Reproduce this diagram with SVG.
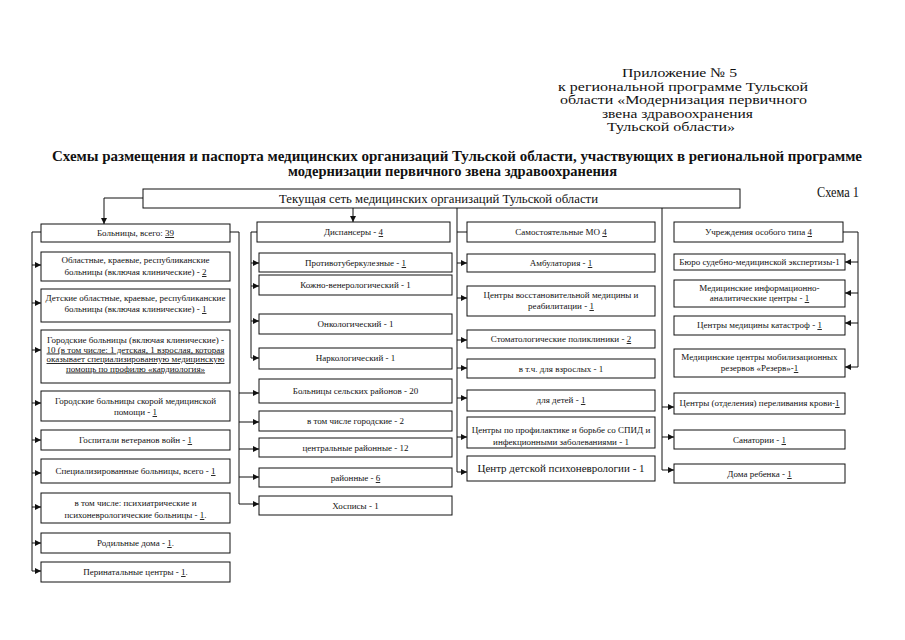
<svg xmlns="http://www.w3.org/2000/svg" width="905" height="640" viewBox="0 0 905 640">
<style>
.bg{fill:#fff}
.box{fill:#fff;stroke:#111;stroke-width:1}
.ln{fill:none;stroke:#111;stroke-width:1}
.ar{fill:none;stroke:#111;stroke-width:1;marker-end:url(#ah)}
.t{font-family:"Liberation Serif","Times New Roman",serif;font-size:9px;fill:#111;text-anchor:middle}
.big{font-size:11px}
.u{text-decoration:underline}
.hd{font-family:"Liberation Serif","Times New Roman",serif;font-size:13.5px;fill:#111}
.sc{font-family:"Liberation Serif","Times New Roman",serif;font-size:15px;fill:#111}
.ti{font-family:"Liberation Serif","Times New Roman",serif;font-size:14.5px;font-weight:bold;fill:#111}
</style>
<defs>
<marker id="ah" viewBox="0 0 6 6" refX="6" refY="3" markerWidth="6" markerHeight="6" markerUnits="userSpaceOnUse" orient="auto">
<path d="M0,0 L6,3 L0,6 Z" fill="#111"/>
</marker>
</defs>
<rect class="bg" x="0" y="0" width="905" height="640"/>

<g id="header">
<text class="hd" x="622" y="77" textLength="115" lengthAdjust="spacingAndGlyphs">Приложение № 5</text>
<text class="hd" x="558" y="90.5" textLength="250" lengthAdjust="spacingAndGlyphs">к региональной программе Тульской</text>
<text class="hd" x="560" y="104" textLength="247" lengthAdjust="spacingAndGlyphs">области «Модернизация первичного</text>
<text class="hd" x="602" y="117.5" textLength="151" lengthAdjust="spacingAndGlyphs">звена здравоохранения</text>
<text class="hd" x="607" y="131" textLength="128" lengthAdjust="spacingAndGlyphs">Тульской области»</text>
</g>
<g id="title">
<text class="ti" x="52" y="161" textLength="810" lengthAdjust="spacingAndGlyphs">Схемы размещения и паспорта медицинских организаций Тульской области, участвующих в региональной программе</text>
<text class="ti" x="288" y="176" textLength="329" lengthAdjust="spacingAndGlyphs">модернизации первичного звена здравоохранения</text>
<text class="sc" x="817" y="197" textLength="42" lengthAdjust="spacingAndGlyphs">Схема 1</text>
</g>

<g id="connectors">
<polyline class="ar" points="143,198 104,198 104,224"/>
<line class="ar" x1="353" y1="208" x2="353" y2="222"/>
<polyline class="ln" points="41,232 32,232 32,571"/>
<line class="ar" x1="32" y1="265" x2="41" y2="265"/>
<line class="ar" x1="32" y1="303" x2="41" y2="303"/>
<line class="ar" x1="32" y1="350" x2="41" y2="350"/>
<line class="ar" x1="32" y1="403" x2="41" y2="403"/>
<line class="ar" x1="32" y1="440" x2="41" y2="440"/>
<line class="ar" x1="32" y1="473" x2="41" y2="473"/>
<line class="ar" x1="32" y1="507" x2="41" y2="507"/>
<line class="ar" x1="32" y1="543" x2="41" y2="543"/>
<line class="ar" x1="32" y1="571" x2="41" y2="571"/>
<polyline class="ln" points="230,232 239,232 239,504"/>
<line class="ar" x1="239" y1="393" x2="259" y2="393"/>
<line class="ar" x1="239" y1="422" x2="259" y2="422"/>
<line class="ar" x1="239" y1="449" x2="259" y2="449"/>
<line class="ar" x1="239" y1="477" x2="259" y2="477"/>
<line class="ar" x1="239" y1="504" x2="259" y2="504"/>
<polyline class="ln" points="257,232 251,232 251,358"/>
<line class="ar" x1="251" y1="263" x2="259" y2="263"/>
<line class="ar" x1="251" y1="286" x2="259" y2="286"/>
<line class="ar" x1="251" y1="321" x2="259" y2="321"/>
<line class="ar" x1="251" y1="358" x2="259" y2="358"/>
<polyline class="ln" points="457,208 457,472"/>
<line class="ln" x1="457" y1="232" x2="467" y2="232"/>
<line class="ar" x1="457" y1="263" x2="467" y2="263"/>
<line class="ar" x1="457" y1="298" x2="467" y2="298"/>
<line class="ar" x1="457" y1="340" x2="467" y2="340"/>
<line class="ar" x1="457" y1="368" x2="467" y2="368"/>
<line class="ar" x1="457" y1="398" x2="467" y2="398"/>
<line class="ar" x1="457" y1="437" x2="467" y2="437"/>
<line class="ar" x1="457" y1="472" x2="467" y2="472"/>
<polyline class="ln" points="662,208 662,470"/>
<line class="ar" x1="662" y1="407" x2="674" y2="407"/>
<line class="ar" x1="662" y1="437" x2="674" y2="437"/>
<line class="ar" x1="662" y1="470" x2="674" y2="470"/>
<polyline class="ln" points="843,232 858,232 858,367"/>
<line class="ar" x1="858" y1="262" x2="845" y2="262"/>
<line class="ar" x1="858" y1="293" x2="845" y2="293"/>
<line class="ar" x1="858" y1="323" x2="845" y2="323"/>
<line class="ar" x1="858" y1="367" x2="845" y2="367"/>
</g>

<g id="root">
<rect class="box" x="143" y="189" width="597" height="19"/>
<text class="t" x="279" y="203" style="font-size:13px;text-anchor:start" textLength="319" lengthAdjust="spacingAndGlyphs">Текущая сеть медицинских организаций Тульской области</text>
</g>

<g id="hospitals">
<rect class="box" x="41" y="224" width="189" height="18"/>
<text class="t" x="135.5" y="236">Больницы, всего: <tspan class="u">39</tspan></text>
</g>
<g id="h-regional">
<rect class="box" x="41" y="252" width="189" height="29"/>
<text class="t" x="135.5" y="263">Областные, краевые, республиканские</text>
<text class="t" x="135.5" y="275">больницы (включая клинические) - <tspan class="u">2</tspan></text>
</g>
<g id="h-children">
<rect class="box" x="41" y="289" width="189" height="33"/>
<text class="t" x="135.5" y="301">Детские областные, краевые, республиканские</text>
<text class="t" x="135.5" y="312">больницы (включая клинические) - <tspan class="u">1</tspan></text>
</g>
<g id="h-city">
<rect class="box" x="41" y="330" width="189" height="53"/>
<text class="t" x="135.5" y="343">Городские больницы (включая клинические) -</text>
<text class="t u" x="135.5" y="352.5">10 (в том числе: 1 детская, 1 взрослая, которая</text>
<text class="t u" x="135.5" y="362">оказывает специализированную медицинскую</text>
<text class="t u" x="135.5" y="371.5">помощь по профилю «кардиология»</text>
</g>
<g id="h-emergency">
<rect class="box" x="41" y="391" width="189" height="30"/>
<text class="t" x="135.5" y="404">Городские больницы скорой медицинской</text>
<text class="t" x="135.5" y="415">помощи - <tspan class="u">1</tspan></text>
</g>
<g id="h-veterans">
<rect class="box" x="41" y="430" width="189" height="20"/>
<text class="t" x="135.5" y="443">Госпитали ветеранов войн - <tspan class="u">1</tspan></text>
</g>
<g id="h-special">
<rect class="box" x="41" y="459" width="189" height="24"/>
<text class="t" x="135.5" y="474">Специализированные больницы, всего - <tspan class="u">1</tspan></text>
</g>
<g id="h-psych">
<rect class="box" x="41" y="493" width="189" height="30"/>
<text class="t" x="135.5" y="506">в том числе: психиатрические и</text>
<text class="t" x="135.5" y="518">психоневрологические больницы - <tspan class="u">1</tspan>.</text>
</g>
<g id="h-maternity">
<rect class="box" x="41" y="533" width="189" height="20"/>
<text class="t" x="135.5" y="546">Родильные дома - <tspan class="u">1</tspan>.</text>
</g>
<g id="h-perinatal">
<rect class="box" x="41" y="562" width="189" height="20"/>
<text class="t" x="135.5" y="575">Перинатальные центры - <tspan class="u">1</tspan>.</text>
</g>

<g id="dispensaries">
<rect class="box" x="257" y="222" width="193" height="20"/>
<text class="t" x="353.5" y="235">Диспансеры - <tspan class="u">4</tspan></text>
</g>
<g id="d-tb">
<rect class="box" x="259" y="253" width="193" height="19"/>
<text class="t" x="355.5" y="266">Противотуберкулезные - <tspan class="u">1</tspan></text>
</g>
<g id="d-derm">
<rect class="box" x="259" y="275" width="193" height="20"/>
<text class="t" x="355.5" y="288">Кожно-венерологический - 1</text>
</g>
<g id="d-onco">
<rect class="box" x="259" y="314" width="193" height="20"/>
<text class="t" x="355.5" y="327">Онкологический - 1</text>
</g>
<g id="d-narco">
<rect class="box" x="259" y="348" width="193" height="21"/>
<text class="t" x="355.5" y="361">Наркологический - 1</text>
</g>
<g id="r-rural">
<rect class="box" x="259" y="379" width="193" height="24"/>
<text class="t" x="355.5" y="394">Больницы сельских районов - 20</text>
</g>
<g id="r-city">
<rect class="box" x="259" y="411" width="193" height="20"/>
<text class="t" x="355.5" y="424">в том числе городские - 2</text>
</g>
<g id="r-central">
<rect class="box" x="259" y="438" width="193" height="19"/>
<text class="t" x="355.5" y="451">центральные районные - 12</text>
</g>
<g id="r-district">
<rect class="box" x="259" y="468" width="193" height="19"/>
<text class="t" x="355.5" y="481">районные - <tspan class="u">6</tspan></text>
</g>
<g id="r-hospice">
<rect class="box" x="259" y="496" width="193" height="19"/>
<text class="t" x="355.5" y="509">Хосписы - 1</text>
</g>

<g id="independent">
<rect class="box" x="467" y="222" width="188" height="20"/>
<text class="t" x="561" y="235">Самостоятельные МО  <tspan class="u">4</tspan></text>
</g>
<g id="i-ambul">
<rect class="box" x="467" y="254" width="188" height="18"/>
<text class="t" x="561" y="266">Амбулатория - <tspan class="u">1</tspan></text>
</g>
<g id="i-rehab">
<rect class="box" x="467" y="286" width="188" height="30"/>
<text class="t" x="561" y="298">Центры восстановительной медицины и</text>
<text class="t" x="561" y="309">реабилитации - <tspan class="u">1</tspan></text>
</g>
<g id="i-dental">
<rect class="box" x="467" y="330" width="188" height="18"/>
<text class="t" x="561" y="342">Стоматологические поликлиники - <tspan class="u">2</tspan></text>
</g>
<g id="i-adult">
<rect class="box" x="467" y="359" width="188" height="19"/>
<text class="t" x="561" y="372">в т.ч. для взрослых - 1</text>
</g>
<g id="i-child">
<rect class="box" x="467" y="390" width="188" height="21"/>
<text class="t" x="561" y="403">для детей - <tspan class="u">1</tspan></text>
</g>
<g id="i-aids">
<rect class="box" x="467" y="417" width="188" height="31"/>
<text class="t" x="561" y="433">Центры по профилактике и борьбе со СПИД и</text>
<text class="t" x="561" y="445">инфекционными заболеваниями - 1</text>
</g>
<g id="i-psycho">
<rect class="box" x="467" y="456" width="188" height="25"/>
<text class="t big" x="561" y="472">Центр детской психоневрологии - 1</text>
</g>

<g id="special">
<rect class="box" x="674" y="222" width="169" height="20"/>
<text class="t" x="758.5" y="235">Учреждения особого типа <tspan class="u">4</tspan></text>
</g>
<g id="s-forensic">
<rect class="box" x="674" y="254" width="171" height="16"/>
<text class="t" x="759.5" y="265">Бюро судебно-медицинской экспертизы-1</text>
</g>
<g id="s-info">
<rect class="box" x="674" y="280" width="171" height="27"/>
<text class="t" x="759.5" y="291">Медицинские информационно-</text>
<text class="t" x="759.5" y="301">аналитические центры  - <tspan class="u">1</tspan></text>
</g>
<g id="s-disaster">
<rect class="box" x="674" y="316" width="171" height="19"/>
<text class="t" x="759.5" y="328">Центры медицины катастроф - <tspan class="u">1</tspan></text>
</g>
<g id="s-reserve">
<rect class="box" x="674" y="349" width="171" height="28"/>
<text class="t" x="759.5" y="360">Медицинские центры мобилизационных</text>
<text class="t" x="759.5" y="371">резервов «Резерв»-<tspan class="u">1</tspan></text>
</g>
<g id="s-blood">
<rect class="box" x="674" y="393" width="171" height="21"/>
<text class="t" x="759.5" y="406">Центры (отделения) переливания крови-<tspan class="u">1</tspan></text>
</g>
<g id="s-sanatorium">
<rect class="box" x="674" y="430" width="171" height="19"/>
<text class="t" x="759.5" y="443">Санатории - <tspan class="u">1</tspan></text>
</g>
<g id="s-orphan">
<rect class="box" x="674" y="464" width="171" height="19"/>
<text class="t" x="759.5" y="477">Дома ребенка - <tspan class="u">1</tspan></text>
</g>
</svg>
